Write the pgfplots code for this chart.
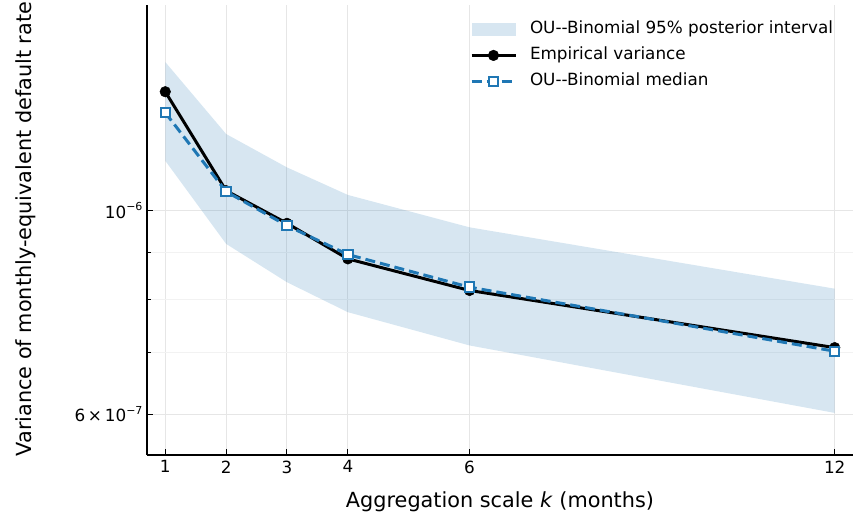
\documentclass[border=0pt]{standalone}
\usepackage{fontspec}
\setmainfont{DejaVu Sans}
\usepackage{pgfplots}
\pgfplotsset{compat=1.18}
\definecolor{tabblue}{RGB}{31,119,180}
\definecolor{gridgray}{RGB}{230,230,230}
\definecolor{minorgray}{RGB}{242,242,242}
\begin{document}
\begin{tikzpicture}
\begin{axis}[
  at={(147pt,59pt)}, anchor=south west,
  scale only axis, width=706pt, height=450pt,
  xmin=0.7, xmax=12.3,
  ymode=log, ymin=5.416e-7, ymax=1.675e-6,
  xtick={1,2,3,4,6,12},
  /pgf/number format/assume math mode=true,
  ytick={6e-7,1e-6},
  yticklabels={{6\,×\,10\raisebox{7.5pt}{\fontsize{11}{11}\selectfont −7}},{10\raisebox{7.5pt}{\fontsize{11}{11}\selectfont −6}}},
  minor ytick={7e-7,8e-7,9e-7},
  axis x line=bottom, axis y line=left,
  axis line style={-, line width=2pt, black},
  tick align=inside,
  major tick length=6pt, minor tick length=4pt,
  tick style={black, line width=1pt},
  xmajorgrids, ymajorgrids, yminorgrids,
  major grid style={gridgray, line width=1pt},
  minor grid style={minorgray, line width=1pt},
  tick label style={font=\fontsize{16.8}{19}\selectfont},
  xticklabel style={yshift=-2pt},
  yticklabel style={xshift=-1pt},
  label style={font=\fontsize{20.8}{24}\selectfont, inner sep=0pt, outer sep=0pt},
  xlabel={Aggregation scale \textit{k} (months)},
  ylabel={Variance of monthly-equivalent default rate},
  x label style={at={(axis description cs:0.5,0)}, anchor=base, yshift=-52pt},
  y label style={at={(axis description cs:0,0.5)}, anchor=base, yshift=115pt, xshift=1pt},
  legend style={draw=none, fill=none, at={(rel axis cs:0.4575,0.9649)}, anchor=north west,
    inner sep=0pt, outer sep=0pt, row sep=9.8pt,
    font=\fontsize{16.8}{19}\selectfont,
    nodes={inner sep=0pt, text height=12.5pt, text depth=4pt},
    /tikz/every odd column/.append style={column sep=13pt}},
  legend cell align=left,
  legend image code/.code={\draw[mark repeat=2,mark phase=2,#1] plot coordinates {(0pt,0pt) (22pt,0pt) (44pt,0pt)};},
]
\addplot[fill=tabblue, fill opacity=0.18, draw=none,
  legend image code/.code={\fill[tabblue, fill opacity=0.18] (0pt,-6.5pt) rectangle (44pt,6pt);}]
  coordinates {
  (1,1.452e-6) (2,1.212e-6) (3,1.1146e-6) (4,1.0402e-6) (6,9.590e-7) (12,8.222e-7)
  (12,6.020e-7) (6,7.131e-7) (4,7.753e-7) (3,8.356e-7) (2,9.200e-7) (1,1.1334e-6)} -- cycle;
\addlegendentry{OU-{}-Binomial 95\% posterior interval}
\addplot[black, line width=3pt, mark=*, mark size=5.3pt, mark options={solid, fill=black, line width=0.5pt}] coordinates {
  (1,1.3477e-6) (2,1.0514e-6) (3,9.687e-7) (4,8.861e-7) (6,8.185e-7) (12,7.093e-7)};
\addlegendentry{Empirical variance}
\addplot[tabblue, line width=3pt, dash pattern=on 10pt off 5pt, mark=square*, mark size=4.7pt, mark options={solid, fill=white, draw=tabblue, line width=2pt}] coordinates {
  (1,1.2787e-6) (2,1.049e-6) (3,9.631e-7) (4,8.958e-7) (6,8.253e-7) (12,7.028e-7)};
\addlegendentry{OU-{}-Binomial median}
\end{axis}
\path (0,0) rectangle (854pt,514pt);
\end{tikzpicture}
\end{document}
